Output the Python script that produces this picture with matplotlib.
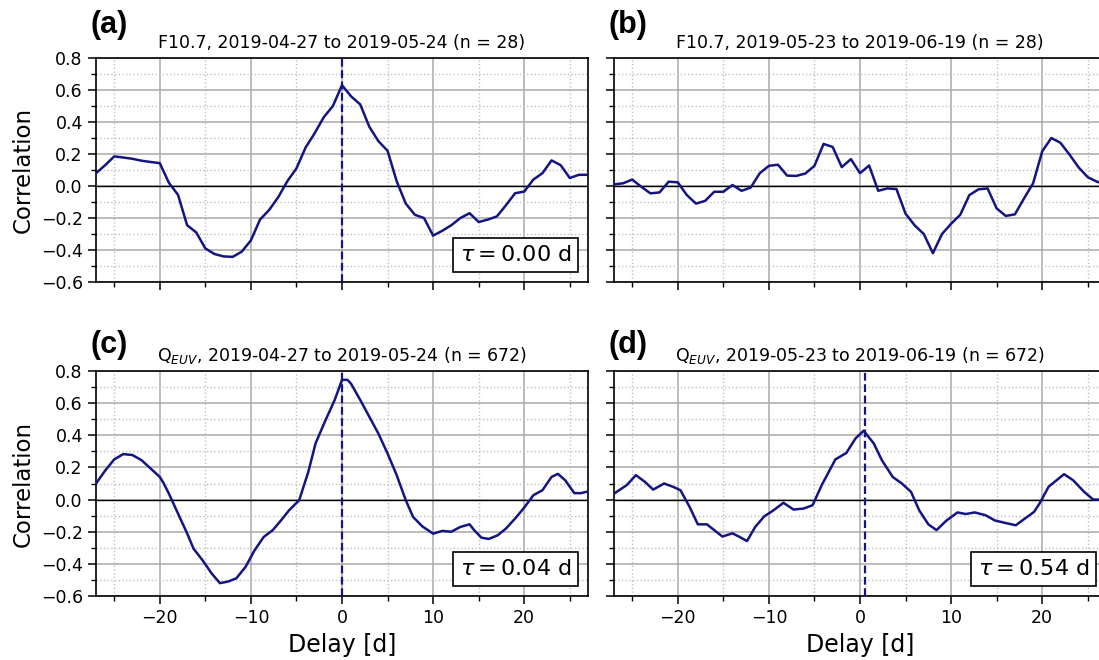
import numpy as np
import matplotlib
matplotlib.use("Agg")
import matplotlib.pyplot as plt
from matplotlib.ticker import MultipleLocator

# daily lags for the F10.7 panels
days = np.arange(-27, 28)

corr_a = [0.08, 0.13, 0.185, 0.178, 0.17, 0.158, 0.150, 0.143, 0.02, -0.055,
          -0.245, -0.29, -0.39, -0.425, -0.44, -0.443, -0.41, -0.34, -0.21, -0.15,
          -0.07, 0.03, 0.11, 0.24, 0.33, 0.43, 0.50, 0.63, 0.56, 0.51,
          0.37, 0.28, 0.22, 0.03, -0.11, -0.18, -0.20, -0.31, -0.28, -0.245,
          -0.20, -0.17, -0.225, -0.21, -0.19, -0.12, -0.045, -0.035, 0.04, 0.08,
          0.16, 0.13, 0.05, 0.07, 0.07]

corr_b = [0.01, 0.017, 0.04, -0.005, -0.046, -0.04, 0.027, 0.023, -0.057, -0.11,
          -0.093, -0.036, -0.036, 0.006, -0.03, -0.01, 0.08, 0.126, 0.133, 0.065,
          0.063, 0.078, 0.126, 0.263, 0.244, 0.118, 0.168, 0.08, 0.128, -0.03,
          -0.015, -0.019, -0.173, -0.246, -0.30, -0.42, -0.30, -0.236, -0.18, -0.057,
          -0.021, -0.015, -0.14, -0.187, -0.177, -0.078, 0.017, 0.217, 0.30, 0.27,
          0.196, 0.116, 0.055, 0.027, 0.01]

# Q_EUV panels
delay_c = [-27, -26, -25, -24, -23, -22, -21, -20, -19.6, -19, -18, -17,
           -16.3, -15.3, -14.3, -13.4, -12.5, -11.6, -10.6, -9.6, -8.6, -7.6,
           -6.7, -5.8, -4.7, -3.7, -2.9, -1.8, -0.8, 0, 0.6, 1, 2, 3, 4, 5, 6,
           7, 7.8, 8.8, 10, 11, 12, 13, 14, 14.5, 15.3, 16.1, 17.1, 18, 19, 20,
           21, 22, 23, 23.7, 24.5, 25.5, 26.2, 27]
corr_c = [0.10, 0.18, 0.25, 0.283, 0.277, 0.245, 0.193, 0.141, 0.104, 0.037,
          -0.087, -0.21, -0.305, -0.378, -0.46, -0.52, -0.51, -0.49, -0.42, -0.316,
          -0.233, -0.19, -0.13, -0.066, -0.004, 0.172, 0.35, 0.495, 0.62, 0.745,
          0.745, 0.72, 0.62, 0.515, 0.41, 0.287, 0.152, -0.004, -0.108, -0.166,
          -0.212, -0.195, -0.20, -0.17, -0.154, -0.19, -0.237, -0.245, -0.222, -0.18,
          -0.118, -0.05, 0.027, 0.058, 0.141, 0.16, 0.12, 0.04, 0.04, 0.05]

delay_d = [-27, -25.6, -24.6, -23.6, -22.7, -21.5, -20.5, -19.7, -18.7, -17.8,
           -16.8, -16.0, -15.1, -14.0, -13.3, -12.4, -11.5, -10.5, -9.5, -8.4,
           -7.3, -6.2, -5.2, -4.2, -2.7, -1.5, -0.5, 0.4, 1.5, 2.4,
           3.6, 4.6, 5.6, 6.5, 7.5, 8.4, 9.5, 10.7, 11.6, 12.6,
           13.8, 14.8, 16.0, 17.1, 18.1, 19.1, 19.7, 20.7, 22.4, 23.4,
           24.6, 25.6, 26.3, 27]
corr_d = [0.037, 0.09, 0.152, 0.11, 0.062, 0.10, 0.079, 0.058, -0.046, -0.154,
          -0.154, -0.19, -0.23, -0.21, -0.23, -0.258, -0.17, -0.104, -0.067, -0.02,
          -0.062, -0.056, -0.035, 0.09, 0.25, 0.29, 0.38, 0.428, 0.35, 0.245,
          0.14, 0.10, 0.048, -0.067, -0.154, -0.19, -0.13, -0.08, -0.09, -0.08,
          -0.098, -0.13, -0.146, -0.16, -0.118, -0.077, -0.025, 0.08, 0.158, 0.12,
          0.048, 0.0, 0.0, 0.0]

labels = ["(a)", "(b)", "(c)", "(d)"]
titles = ["F10.7, 2019-04-27 to 2019-05-24 (n = 28)",
          "F10.7, 2019-05-23 to 2019-06-19 (n = 28)",
          r"Q$_{EUV}$, 2019-04-27 to 2019-05-24 (n = 672)",
          r"Q$_{EUV}$, 2019-05-23 to 2019-06-19 (n = 672)"]
taus = [0.00, None, 0.04, 0.54]

xs = [days, days, delay_c, delay_d]
ys = [corr_a, corr_b, corr_c, corr_d]

col = "#141483"

fig = plt.figure(figsize=(10.99, 6.6), dpi=100)
W, H = 1099.0, 660.0
lefts = [96, 614, 96, 614]
tops = [58, 58, 371, 371]
bottoms = [282, 282, 596, 596]
lab_y = [25, 25, 345, 345]
lab_x = [91, 608, 90, 608]

for i in range(4):
    ax = fig.add_axes([lefts[i] / W, 1 - bottoms[i] / H, 492 / W,
                       (bottoms[i] - tops[i]) / H])
    ax.set_xlim(-27, 27)
    ax.set_ylim(-0.6, 0.8)
    ax.xaxis.set_major_locator(MultipleLocator(10))
    ax.xaxis.set_minor_locator(MultipleLocator(5))
    ax.yaxis.set_major_locator(MultipleLocator(0.2))
    ax.yaxis.set_minor_locator(MultipleLocator(0.1))
    ax.grid(which="major", color="#aaaaaa", lw=1.1, ls="-")
    ax.grid(which="minor", color="#c0c0c0", lw=1.0, ls=":")
    ax.set_axisbelow(True)
    ax.tick_params(which="major", direction="out", length=6, width=1.1,
                   labelsize=12.5, top=False, right=False)
    ax.tick_params(which="minor", direction="out", length=3.5, width=1.0,
                   top=False, right=False)
    for s in ax.spines.values():
        s.set_linewidth(1.2)
    ax.axhline(0, color="black", lw=1.0, zorder=2)
    ax.plot(xs[i], ys[i], color=col, lw=1.8, zorder=3)
    if taus[i] is not None:
        ax.axvline(taus[i], color=col, lw=1.6, ls=(0, (3.5, 1.6)), zorder=3)
        ax.text(0.966, 0.076, r"$\tau = %.2f$ d" % taus[i], transform=ax.transAxes,
                ha="right", va="bottom", fontsize=16, zorder=5,
                bbox=dict(boxstyle="square,pad=0.3", fc="white", ec="black", lw=1.2))
    if i % 2 == 0:
        ax.set_ylabel("Correlation", fontsize=16.5)
    else:
        ax.set_yticklabels([])
    if i < 2:
        ax.set_xticklabels([])
    else:
        ax.set_xlabel("Delay [d]", fontsize=17, labelpad=4)
    ax.set_title(titles[i], fontsize=12.5, pad=7)
    fig.text(lab_x[i] / W, 1 - lab_y[i] / H, labels[i], fontsize=22,
             fontweight="bold", family="Liberation Sans", ha="left", va="center")

fig.savefig("out.png", dpi=100)
